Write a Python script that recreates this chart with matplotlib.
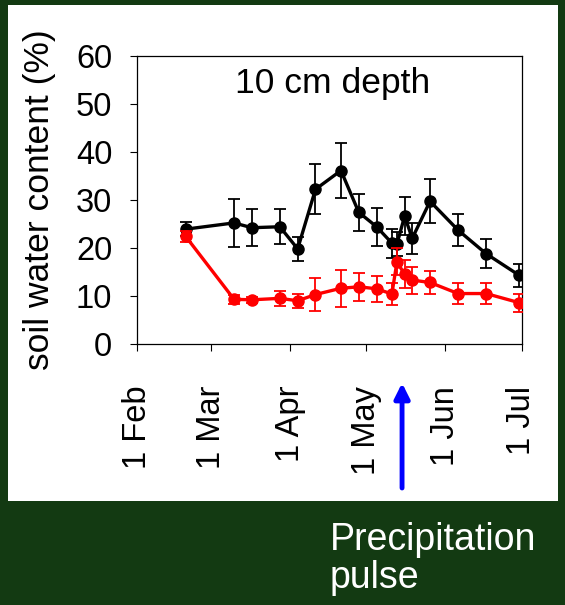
import matplotlib
matplotlib.use('Agg')
import matplotlib.pyplot as plt
import matplotlib.dates as mdates
import numpy as np
from matplotlib.patches import Rectangle

plt.rcParams['font.family'] = ['Liberation Sans', 'DejaVu Sans']

# ---- data ----
dates = ['2008-02-20', '2008-03-10', '2008-03-17', '2008-03-28', '2008-04-04',
         '2008-04-11', '2008-04-21', '2008-04-28', '2008-05-05', '2008-05-11',
         '2008-05-13', '2008-05-16', '2008-05-19', '2008-05-26', '2008-06-06',
         '2008-06-17', '2008-06-30']
black_vals = [23.9, 25.2, 24.2, 24.4, 19.8, 32.2, 36.1, 27.4, 24.4, 21.0,
              20.8, 26.6, 22.0, 29.7, 23.7, 18.8, 14.3]
black_err = [1.5, 5.0, 3.9, 3.6, 2.5, 5.2, 5.8, 3.8, 4.0, 3.0,
             2.5, 4.0, 3.2, 4.6, 3.3, 3.0, 2.4]
red_vals = [22.4, 9.3, 9.2, 9.5, 9.0, 10.3, 11.6, 11.9, 11.5, 10.4,
            17.1, 14.5, 13.3, 12.8, 10.5, 10.5, 8.6]
red_err = [1.1, 1.0, 0.6, 1.5, 1.5, 3.4, 3.8, 2.9, 2.7, 2.2,
           2.8, 2.9, 2.8, 2.4, 2.1, 2.1, 1.9]
tick_dates = ['2008-02-01', '2008-03-01', '2008-04-01', '2008-05-01',
              '2008-06-01', '2008-07-01']
tick_labels = ['1 Feb', '1 Mar', '1 Apr', '1 May', '1 Jun', '1 Jul']
y_ticks = [0, 10, 20, 30, 40, 50, 60]
pulse_date = '2008-05-15'

x = np.array(dates, dtype='datetime64[D]')
xt = np.array(tick_dates, dtype='datetime64[D]')

GREEN = '#133a12'
fig = plt.figure(figsize=(5.65, 6.05), dpi=100, facecolor=GREEN)
fig.patches.append(Rectangle((8 / 565, 1 - 501 / 605), 550 / 565, 496 / 605,
                             transform=fig.transFigure, facecolor='white',
                             edgecolor='none', zorder=-10))

ax = fig.add_axes([137.3 / 565, 1 - 344 / 605, 384.4 / 565, 288.3 / 605])
ax.set_zorder(1)
ax.set_facecolor('white')

ax.errorbar(x, black_vals, yerr=black_err, color='black', marker='o', ms=8,
            lw=2.4, elinewidth=1.3, capsize=4, capthick=1.3, zorder=3)
ax.errorbar(x, red_vals, yerr=red_err, color='#ff0000', marker='o', ms=8,
            lw=2.4, elinewidth=1.3, capsize=4, capthick=1.3, zorder=4)

ax.set_xlim(xt[0], xt[-1])
ax.set_ylim(0, 60)
ax.set_yticks(y_ticks)
ax.set_xticks(xt)
ax.set_xticklabels(tick_labels, rotation=90)
ax.tick_params(axis='both', direction='out', length=5, width=0.8,
               labelsize=23.5, colors='black')
ax.tick_params(axis='y', pad=13)
ax.tick_params(axis='x', pad=25)
for s in ax.spines.values():
    s.set_linewidth(0.9)

ax.set_ylabel('soil water content (%)', fontsize=25.5)
ax.yaxis.set_label_coords(-0.212, 0.5)

ax.text(0.508, 0.8706, '10 cm depth', transform=ax.transAxes, ha='center',
        va='baseline', fontsize=25.5)

pd_ = np.datetime64(pulse_date)
ax.annotate('', xy=(pd_, 1 - 383 / 605), xytext=(pd_, 1 - 488 / 605),
            xycoords=('data', 'figure fraction'),
            textcoords=('data', 'figure fraction'),
            arrowprops=dict(arrowstyle='-|>,head_length=0.9,head_width=0.45',
                            color='#0000ff', lw=3.5, shrinkA=0, shrinkB=0),
            annotation_clip=False)

fig.text(0.584, 1 - 550 / 605, 'Precipitation', color='white', fontsize=27,
         ha='left', va='baseline')
fig.text(0.584, 1 - 588 / 605, 'pulse', color='white', fontsize=27,
         ha='left', va='baseline')

fig.savefig('out.png', dpi=100, facecolor=GREEN)
